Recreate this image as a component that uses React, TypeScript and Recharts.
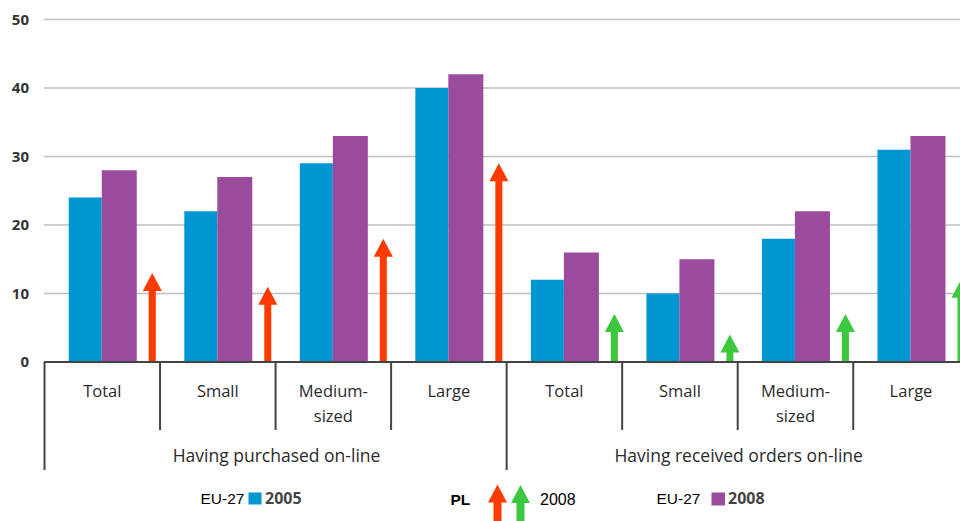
// App.tsx
// E-commerce in enterprises: EU-27 2005/2008 bars plus PL 2008 arrows
import { BarChart, Bar, XAxis, YAxis, CartesianGrid } from "recharts";

const categories = [
    "Total", "Small", "Medium-sized", "Large",
    "Total", "Small", "Medium-sized", "Large",
];
const groupLabels = ["Having purchased on-line", "Having received orders on-line"];
const eu2005 = [24, 22, 29, 40, 12, 10, 18, 31];
const eu2008 = [28, 27, 33, 42, 16, 15, 22, 33];
const pl2008 = [13, 11, 18, 29, 7, 4, 7, 12];
const yTicks = [0, 10, 20, 30, 40, 50];

const BLUE = "#0096d2";
const PURPLE = "#9b4b9b";
const RED = "#ff3a00";
const GREEN = "#3cc83c";
const FONT = "'Open Sans', sans-serif";
const ARIAL = "'Liberation Sans', Arial, sans-serif";

const data = categories.map((name, i) => ({
    name,
    eu2005: eu2005[i],
    eu2008: eu2008[i],
    pl2008: pl2008[i],
}));

const arrowPath = (cx: number, tip: number, base: number, headH = 18, headHalf = 9.5, shaftHalf = 3.5) =>
    `M${cx},${tip} L${cx + headHalf},${tip + headH} L${cx + shaftHalf},${tip + headH} ` +
    `L${cx + shaftHalf},${base} L${cx - shaftHalf},${base} L${cx - shaftHalf},${tip + headH} ` +
    `L${cx - headHalf},${tip + headH} Z`;

// arrow sits at the right edge of its bar slot
const ArrowShape = (props: any) => {
    const { x, y, width, height, index } = props;
    if (height == null || height <= 0) return null;
    const cx = x + width - 9.5;
    const color = index < 4 ? RED : GREEN;
    return <path d={arrowPath(cx, y, y + height)} fill={color} />;
};

const CategoryTick = (props: any) => {
    const { x, y, payload, index } = props;
    const i = payload?.index ?? index;
    const label: string = categories[i] ?? "";
    const sepX = x - 71;
    const long = i % 4 === 0;
    const cx = x - 13.25;
    const lines = label.includes("-")
        ? [label.slice(0, label.indexOf("-") + 1), label.slice(label.indexOf("-") + 1)]
        : [label];
    return (
        <g>
            <line x1={sepX} y1={y} x2={sepX} y2={y + (long ? 108 : 68)} stroke="#444" strokeWidth={2} />
            {lines.map((ln, k) => (
                <text key={k} x={cx} y={y + 35 + k * 25} textAnchor="middle"
                    fontFamily={FONT} fontSize={16.5} fontWeight={500} fill="#2a2a2a">
                    {ln}
                </text>
            ))}
            {long && (
                <text x={sepX + 232} y={y + 100} textAnchor="middle"
                    fontFamily={FONT} fontSize={17.5} fontWeight={500} fill="#2a2a2a">
                    {groupLabels[i / 4]}
                </text>
            )}
        </g>
    );
};

const LegendOverlay = () => (
    <svg width={960} height={521} style={{ position: "absolute", left: 0, top: 0, pointerEvents: "none" }}>
        <text x={200.5} y={504} fontFamily={ARIAL} fontSize={15.5} fill="#000">EU-27</text>
        <rect x={248.5} y={492.5} width={13} height={12} fill={BLUE} />
        <text x={265} y={504} fontFamily={FONT} fontSize={16} fontWeight={700} fill="#444">2005</text>

        <text x={450.5} y={505} fontFamily={ARIAL} fontSize={15.5} fontWeight={700} fill="#000">PL</text>
        <path d={arrowPath(497.5, 484.5, 521, 18, 9.5, 4)} fill={RED} />
        <path d={arrowPath(520.5, 485, 521, 18, 9.5, 4)} fill={GREEN} />
        <text x={540} y={505} fontFamily={ARIAL} fontSize={16} fill="#000">2008</text>

        <text x={656.5} y={504} fontFamily={ARIAL} fontSize={15.5} fill="#000">EU-27</text>
        <rect x={711.5} y={492.5} width={13.5} height={13} fill={PURPLE} />
        <text x={728} y={504} fontFamily={FONT} fontSize={16} fontWeight={700} fill="#444">2008</text>
    </svg>
);

export default function App() {
    return (
        <div style={{ position: "absolute", left: 0, top: 0, width: 960, height: 521, overflow: "hidden", background: "#fff" }}>
            <BarChart
                width={982}
                height={521}
                data={data}
                margin={{ top: 19.5, right: 0, bottom: 0, left: 0 }}
                barGap={0}
            >
                <CartesianGrid vertical={false} stroke="#bfbfbf" strokeWidth={1.5} />
                <XAxis
                    dataKey="name"
                    height={159}
                    interval={0}
                    padding={{ left: 13.75, right: 0 }}
                    tickLine={false}
                    tickSize={0}
                    tickMargin={0}
                    axisLine={{ stroke: "#444", strokeWidth: 2 }}
                    tick={<CategoryTick />}
                />
                <YAxis
                    width={44}
                    domain={[0, 50]}
                    ticks={yTicks}
                    axisLine={false}
                    tickLine={false}
                    tickSize={0}
                    tickMargin={15}
                    tick={{ fontFamily: FONT, fontSize: 15, fontWeight: 700, fill: "#333" }}
                />
                <Bar dataKey="eu2005" name="EU-27 2005" fill={BLUE} barSize={33} isAnimationActive={false} />
                <Bar dataKey="eu2008" name="EU-27 2008" fill={PURPLE} barSize={35} isAnimationActive={false} />
                <Bar dataKey="pl2008" name="PL 2008" fill={RED} barSize={25} shape={<ArrowShape />} isAnimationActive={false} />
            </BarChart>
            <LegendOverlay />
        </div>
    );
}
